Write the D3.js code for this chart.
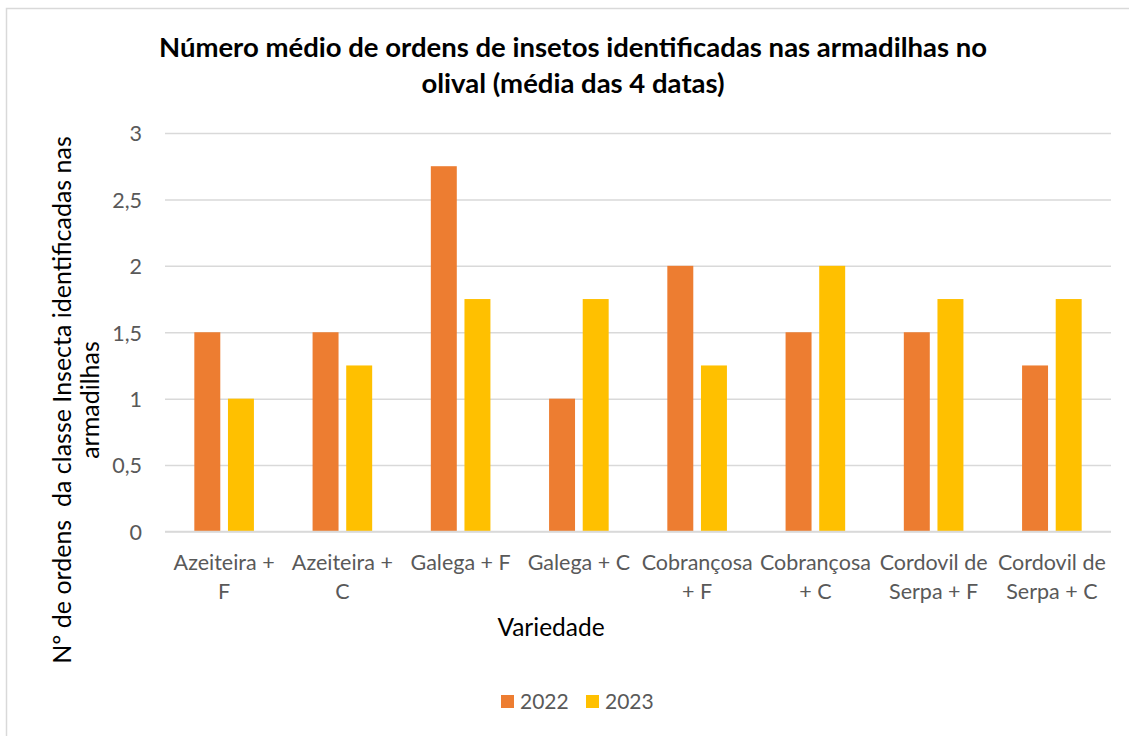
<!DOCTYPE html>
<html><head><meta charset="utf-8">
<script src="https://cdn.jsdelivr.net/npm/d3@7"></script>
<style>
html,body{margin:0;padding:0;background:#fff;}
svg text{font-family:Lato,"Open Sans",sans-serif;white-space:pre;}
</style></head>
<body><svg id="c" width="1129" height="736"></svg>
<script>
const categories = ["Azeiteira + F","Azeiteira + C","Galega + F","Galega + C","Cobrançosa + F","Cobrançosa + C","Cordovil de Serpa + F","Cordovil de Serpa + C"];
const categoryLines = [["Azeiteira +","F"],["Azeiteira +","C"],["Galega + F"],["Galega + C"],["Cobrançosa","+ F"],["Cobrançosa","+ C"],["Cordovil de","Serpa + F"],["Cordovil de","Serpa + C"]];
const seriesNames = ["2022","2023"];
const values2022 = [1.5,1.5,2.75,1,2,1.5,1.5,1.25];
const values2023 = [1,1.25,1.75,1.75,1.25,2,1.75,1.75];
const yTicks = [0,0.5,1,1.5,2,2.5,3];
const colors = ["#ED7D31","#FFC000"];
const titleLines = ["Número médio de ordens de insetos identificadas nas armadilhas no","olival (média das 4 datas)"];
const yLabelLines = ["Nº de ordens  da classe Insecta identificadas nas","armadilhas"];
const xLabel = "Variedade";

const svg = d3.select("#c");
svg.append("rect").attr("x",6.5).attr("y",8.5).attr("width",1200).attr("height",800)
  .attr("fill","none").attr("stroke","#d9d9d9").attr("stroke-width",1.5);

const L=165, R=1111, T=133, B=531.5;
const x0 = d3.scaleBand().domain(categories).range([L,R]).paddingInner(0).paddingOuter(0);
const bw = x0.bandwidth();
const x1 = d3.scaleBand().domain(seriesNames).range([bw*0.248, bw*0.752]).paddingInner(0.228).paddingOuter(0);
const y = d3.scaleLinear().domain([0,3]).range([B,T]);

const yAxis = d3.axisLeft(y).tickValues(yTicks).tickSize(-(R-L)).tickFormat(d=>String(d).replace(".",","));
const gy = svg.append("g").attr("transform",`translate(${L},0)`).call(yAxis);
gy.select(".domain").remove();
gy.selectAll(".tick line").attr("stroke","#d9d9d9").attr("stroke-width",1.5);
gy.selectAll(".tick text").attr("x",-23).attr("dy","0.36em").attr("fill","#595959").style("font-size","21.5px");

const data = categories.map((c,i)=>({c, vals:[values2022[i],values2023[i]]}));
const g = svg.append("g");
data.forEach(d=>{
  d.vals.forEach((v,j)=>{
    g.append("rect").attr("x",x0(d.c)+x1(seriesNames[j])).attr("y",y(v))
      .attr("width",x1.bandwidth()).attr("height",y(0)-y(v)).attr("fill",colors[j]);
  });
});
svg.append("line").attr("x1",L).attr("x2",R).attr("y1",y(0)).attr("y2",y(0)).attr("stroke","#d9d9d9").attr("stroke-width",1.5);

const xAxis = d3.axisBottom(x0).tickSize(0).tickFormat("");
const gx = svg.append("g").attr("transform",`translate(0,${B})`).call(xAxis);
gx.select(".domain").remove();
gx.selectAll(".tick").each(function(d,i){
  const t = d3.select(this).append("text").attr("fill","#595959").attr("text-anchor","middle").style("font-size","21.5px");
  categoryLines[i].forEach((ln,k)=>{
    t.append("tspan").attr("x",0).attr("y",38.5+k*28.5).text(ln);
  });
});

svg.append("text").attr("x",551).attr("y",636).attr("text-anchor","middle").attr("fill","#000").style("font-size","24.5px").text(xLabel);

const yl = svg.append("text").attr("transform","translate(0,400) rotate(-90)").attr("text-anchor","middle").attr("fill","#000").style("font-size","25px");
yLabelLines.forEach((ln,k)=>{
  yl.append("tspan").attr("x",0).attr("y",71+k*28).text(ln);
});

const tt = svg.append("text").attr("text-anchor","middle").attr("fill","#000").style("font-size","27.5px").style("font-weight","bold");
titleLines.forEach((ln,k)=>{
  tt.append("tspan").attr("x",573).attr("y",57+k*36).text(ln);
});

const lg = svg.append("g");
const legX = [501,586];
seriesNames.forEach((s,j)=>{
  lg.append("rect").attr("x",legX[j]).attr("y",695).attr("width",13).attr("height",13).attr("fill",colors[j]);
  lg.append("text").attr("x",legX[j]+19).attr("y",709).attr("fill","#595959").style("font-size","21px").text(s);
});
</script></body></html>
